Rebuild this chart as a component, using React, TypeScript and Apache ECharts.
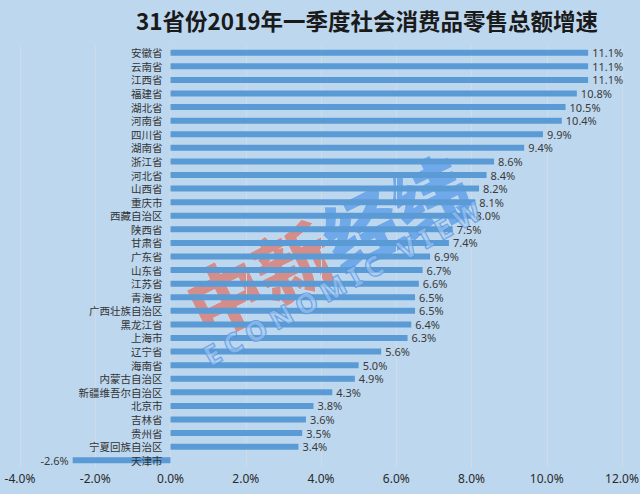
import React, { useEffect, useRef } from "react";
import * as echarts from "echarts";

const TITLE = "31省份2019年一季度社会消费品零售总额增速";

const provinces: string[] = [
  "安徽省", "云南省", "江西省", "福建省", "湖北省", "河南省", "四川省", "湖南省",
  "浙江省", "河北省", "山西省", "重庆市", "西藏自治区", "陕西省", "甘肃省", "广东省",
  "山东省", "江苏省", "青海省", "广西壮族自治区", "黑龙江省", "上海市", "辽宁省", "海南省",
  "内蒙古自治区", "新疆维吾尔自治区", "北京市", "吉林省", "贵州省", "宁夏回族自治区", "天津市",
];

const growth: number[] = [
  11.1, 11.1, 11.1, 10.8, 10.5, 10.4, 9.9, 9.4,
  8.6, 8.4, 8.2, 8.1, 8.0, 7.5, 7.4, 6.9,
  6.7, 6.6, 6.5, 6.5, 6.4, 6.3, 5.6, 5.0,
  4.9, 4.3, 3.8, 3.6, 3.5, 3.4, -2.6,
];

const xMin = -4;
const xMax = 12;
const xStep = 2;

const CJK = '"Noto Sans CJK SC", "Noto Sans", sans-serif';
const LATIN = '"Noto Sans", "Noto Sans CJK SC", sans-serif';

const GRID_LEFT = 20;
const GRID_RIGHT = 18;
const W = 640;

export default function App() {
  const ref = useRef<HTMLDivElement>(null);

  useEffect(() => {
    if (!ref.current) return;
    const chart = echarts.init(ref.current, undefined, { renderer: "svg" });
    const pct = (v: number) => v.toFixed(1) + "%";
    // distance from grid left edge to the zero line, so the category axis sits on zero
    const zeroShift = ((0 - xMin) / (xMax - xMin)) * (W - GRID_LEFT - GRID_RIGHT);

    chart.setOption({
      animation: false,
      backgroundColor: "#bdd7ee",
      grid: {
        left: GRID_LEFT,
        right: GRID_RIGHT,
        top: 46,
        bottom: 27,
        containLabel: false,
        outerBoundsMode: "none",
      },
      xAxis: {
        type: "value",
        min: xMin,
        max: xMax,
        interval: xStep,
        axisLine: { show: false },
        axisTick: { show: false },
        axisLabel: {
          formatter: (v: number) => pct(v),
          fontFamily: LATIN,
          fontSize: 12,
          color: "#2b2b2b",
          margin: 5,
        },
        splitLine: { show: true, lineStyle: { color: "#cfdce8", width: 1 } },
      },
      yAxis: {
        type: "category",
        inverse: true,
        data: provinces,
        offset: -zeroShift,
        z: 5,
        axisLine: { show: false, onZero: false },
        axisTick: { show: false },
        axisLabel: {
          interval: 0,
          fontFamily: CJK,
          fontSize: 10.5,
          lineHeight: 11,
          color: "#333333",
          margin: 8,
        },
        splitLine: { show: false },
      },
      series: [
        {
          type: "bar",
          barWidth: 6,
          z: 2,
          itemStyle: { color: "#5b9bd5" },
          data: growth.map((v) => ({
            value: v,
            label: { position: v < 0 ? "left" : "right" },
          })),
          label: {
            show: true,
            position: "right",
            distance: 4,
            fontFamily: LATIN,
            fontSize: 11,
            lineHeight: 12,
            color: "#3a3a3a",
            formatter: (p: any) => pct(p.value),
          },
        },
      ],
      graphic: [
        {
          type: "text",
          x: 367,
          y: 20,
          style: {
            text: TITLE,
            font: `bold 22.5px ${CJK}`,
            fill: "#1a1a1a",
            align: "center",
            verticalAlign: "middle",
          },
        },
        {
          type: "group",
          x: 326,
          y: 243,
          rotation: 0.46,
          z: 100,
          children: [
            {
              type: "text",
              x: -76,
              y: 0,
              style: {
                text: "中新",
                font: `900 76px ${CJK}`,
                fill: "rgba(222,112,100,0.72)",
                stroke: "rgba(255,255,255,0.25)",
                lineWidth: 1,
                align: "center",
                verticalAlign: "middle",
              },
            },
            {
              type: "text",
              x: 76,
              y: 0,
              style: {
                text: "经纬",
                font: `900 76px ${CJK}`,
                fill: "rgba(80,150,232,0.7)",
                stroke: "rgba(255,255,255,0.25)",
                lineWidth: 1,
                align: "center",
                verticalAlign: "middle",
              },
            },
          ],
        },
        {
          type: "text",
          x: 342,
          y: 283,
          rotation: 0.5,
          z: 100,
          style: {
            text: "E C O N O M I C   V I E W",
            font: `bold 27px ${LATIN}`,
            fill: "rgba(170,205,240,0.55)",
            stroke: "rgba(70,140,225,0.75)",
            lineWidth: 1.5,
            align: "center",
            verticalAlign: "middle",
          },
        },
      ],
    });

    return () => chart.dispose();
  }, []);

  return (
    <div
      ref={ref}
      style={{ position: "fixed", left: 0, top: 0, width: 640, height: 494 }}
    />
  );
}
